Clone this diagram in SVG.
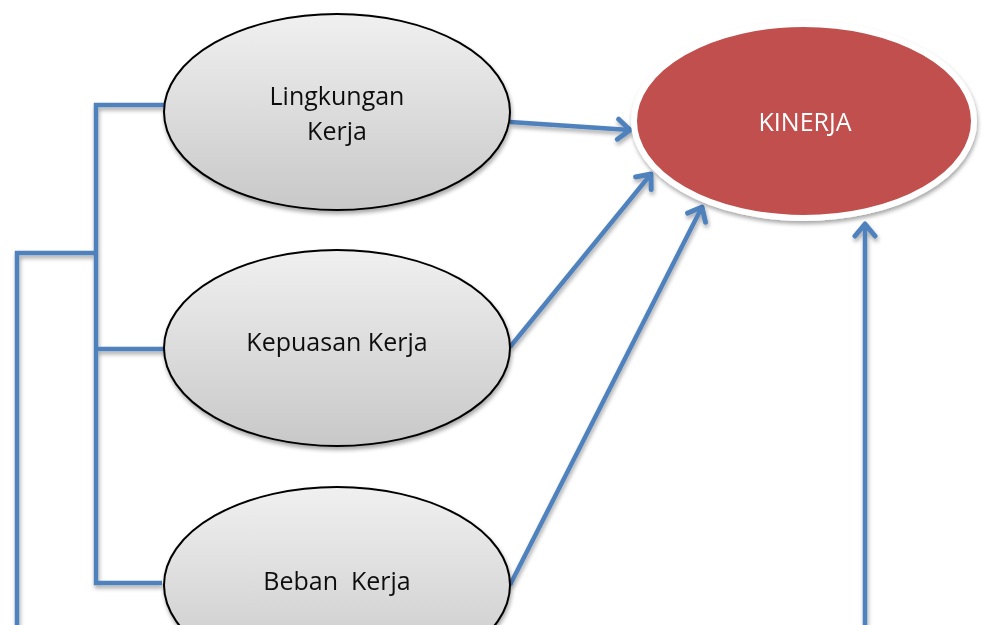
<svg xmlns="http://www.w3.org/2000/svg" width="983" height="625" viewBox="0 0 983 625">
<style>
.lbl{font-family:"Open Sans","Liberation Sans",sans-serif;font-size:25px;fill:#111;text-anchor:middle}
.klbl{font-family:"Open Sans","Liberation Sans",sans-serif;font-size:25px;fill:#fff;text-anchor:middle}
.node{fill:url(#g);stroke:#000;stroke-width:2}
.conn{fill:none;stroke:#4F81BD;stroke-width:4.5;stroke-linejoin:miter;stroke-linecap:butt}
</style>
<defs>
<linearGradient id="g" x1="0" y1="0" x2="0" y2="1">
<stop offset="0" stop-color="#F0F0F0"/>
<stop offset="1" stop-color="#C8C8C8"/>
</linearGradient>
<filter id="sh" x="-10%" y="-10%" width="130%" height="130%">
<feGaussianBlur in="SourceAlpha" stdDeviation="2"/>
<feOffset dx="1" dy="3" result="b"/>
<feComponentTransfer><feFuncA type="linear" slope="0.35"/></feComponentTransfer>
<feMerge><feMergeNode/><feMergeNode in="SourceGraphic"/></feMerge>
</filter>
<marker id="ah" markerUnits="userSpaceOnUse" markerWidth="30" markerHeight="30" refX="15" refY="15" orient="auto" viewBox="0 0 30 30">
<path d="M3,5 L15,15 L3,25" fill="none" stroke="#4F81BD" stroke-width="5" stroke-linecap="round" stroke-linejoin="round"/>
</marker>
</defs>
<g id="connectors" filter="url(#sh)">
<path class="conn" d="M164,105 H96 V583 H162"/>
<path class="conn" d="M96,349 H164"/>
<path class="conn" d="M17,625 V253 H96"/>
<line class="conn" x1="510" y1="122" x2="630" y2="130" marker-end="url(#ah)"/>
<line class="conn" x1="510" y1="347" x2="651" y2="174" marker-end="url(#ah)"/>
<line class="conn" x1="510" y1="585" x2="702" y2="207" marker-end="url(#ah)"/>
<line class="conn" x1="865" y1="625" x2="865" y2="224" marker-end="url(#ah)"/>
</g>
<g id="lingkungan" filter="url(#sh)">
<ellipse class="node" cx="337" cy="112" rx="173" ry="98"/>
<text class="lbl" x="337" y="105">Lingkungan</text>
<text class="lbl" x="337" y="140">Kerja</text>
</g>
<g id="kepuasan" filter="url(#sh)">
<ellipse class="node" cx="337" cy="348" rx="173" ry="98"/>
<text class="lbl" x="337" y="351">Kepuasan Kerja</text>
</g>
<g id="beban" filter="url(#sh)">
<ellipse class="node" cx="337" cy="585" rx="173" ry="98"/>
<text class="lbl" x="337" y="590" xml:space="preserve">Beban  Kerja</text>
</g>
<g id="kinerja" filter="url(#sh)">
<ellipse cx="804" cy="121" rx="170" ry="97" fill="#C0504D" stroke="#fff" stroke-width="6"/>
<text class="klbl" x="805" y="131">KINERJA</text>
</g>
</svg>
